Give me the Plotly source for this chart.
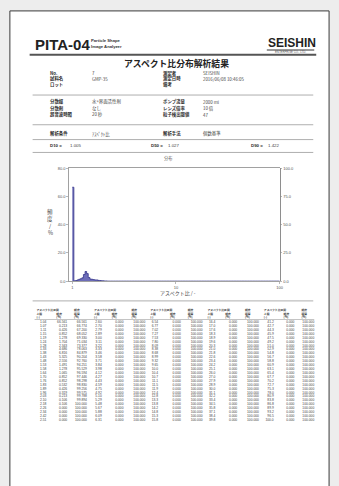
import plotly.graph_objects as go

W, H = 339, 486

# ---------------- data ----------------
EDGES = [
    1.000, 1.036, 1.074, 1.112, 1.152, 1.194, 1.237, 1.281, 1.328, 1.376,
    1.425, 1.477, 1.530, 1.585, 1.642, 1.701, 1.763, 1.826, 1.892, 1.960,
    2.031, 2.104, 2.180, 2.259, 2.340, 2.425, 2.512, 2.603, 2.697, 2.794,
    2.894, 2.999, 3.107, 3.219, 3.335, 3.455, 3.580, 3.709, 3.843, 3.981,
    4.125, 4.273, 4.428, 4.587, 4.753, 4.924, 5.102, 5.286, 5.477, 5.674,
    5.879, 6.091, 6.310, 6.537, 6.773, 7.017, 7.271, 7.533, 7.805, 8.086,
    8.378, 8.680, 8.993, 9.317, 9.653, 10.00, 10.36, 10.74, 11.12, 11.52,
    11.94, 12.37, 12.81, 13.28, 13.76, 14.25, 14.77, 15.30, 15.85, 16.42,
    17.01, 17.63, 18.26, 18.92, 19.60, 20.31, 21.04, 21.80, 22.59, 23.40,
    24.25, 25.12, 26.03, 26.97, 27.94, 28.94, 29.99, 31.07, 32.19, 33.35,
    34.55, 35.80, 37.09, 38.43, 39.81, 41.25, 42.73, 44.28, 45.87, 47.53,
    49.24, 51.02, 52.86, 54.77, 56.74, 58.79, 60.91, 63.10, 65.37, 67.73,
    70.17, 72.71, 75.33, 78.05, 80.86, 83.78, 86.80, 89.93, 93.17, 96.53,
    100.0,
]

FREQ = [
    66.561, 0.213, 0.426, 0.852, 1.278, 1.704, 2.343, 4.686, 6.816, 5.325,
    2.556, 1.491, 1.278, 1.065, 0.852, 0.852, 0.532, 0.426, 0.319, 0.213,
    0.106, 0.106, 0.000, 0.000, 0.000, 0.000, 0.000, 0.000, 0.000, 0.000,
    0.000, 0.000, 0.000, 0.000, 0.000, 0.000, 0.000, 0.000, 0.000, 0.000,
    0.000, 0.000, 0.000, 0.000, 0.000, 0.000, 0.000, 0.000, 0.000, 0.000,
    0.000, 0.000, 0.000, 0.000, 0.000, 0.000, 0.000, 0.000, 0.000, 0.000,
    0.000, 0.000, 0.000, 0.000, 0.000, 0.000, 0.000, 0.000, 0.000, 0.000,
    0.000, 0.000, 0.000, 0.000, 0.000, 0.000, 0.000, 0.000, 0.000, 0.000,
    0.000, 0.000, 0.000, 0.000, 0.000, 0.000, 0.000, 0.000, 0.000, 0.000,
    0.000, 0.000, 0.000, 0.000, 0.000, 0.000, 0.000, 0.000, 0.000, 0.000,
    0.000, 0.000, 0.000, 0.000, 0.000, 0.000, 0.000, 0.000, 0.000, 0.000,
    0.000, 0.000, 0.000, 0.000, 0.000, 0.000, 0.000, 0.000, 0.000, 0.000,
    0.000, 0.000, 0.000, 0.000, 0.000, 0.000, 0.000, 0.000, 0.000, 0.000,
]

LEFT_TICKS = [0, 20, 40, 60, 80]
RIGHT_TICKS = [0, 25, 50, 75, 100]
X_TICKS = [1, 10, 100]
X_TICK_TEXT = ["1", "10", "100"]

INFO_ROWS = [
    ("No.", "7", "測定者", "SEISHIN"),
    ("試料名", "GMP-35", "測定日時", "2016/06/08 10:46:05"),
    ("ロット", "", "備考", ""),
    ("分散媒", "水+界面活性剤", "ポンプ流量", "2000 ml"),
    ("分散剤", "なし", "レンズ倍率", "10 倍"),
    ("超音波時間", "20 秒", "粒子検出閾値", "47"),
    ("解析条件", "ｱｽﾍﾟｸﾄ比", "解析手法", "個数基準"),
]
D_LABELS = ["D10 =", "D50 =", "D90 ="]
D_VALUES = ["1.005", "1.027", "1.422"]

TITLE = "アスペクト比分布解析結果"
CHART_TITLE = "分布"
X_TITLE = "アスペクト比 / -"
Y_TITLE_CHARS = ["頻", "度", "/", "%"]
TABLE_HEAD = [("アスペクト比区間", "", "頻度"), ("上限", "頻度", "積算"), ("(-)", "(%)", "(%)")]

# ---------------- helpers ----------------
JP = "Noto Sans CJK JP, sans-serif"
LAT = "Liberation Sans, Arial, sans-serif"


def px(x):
    return x / W


def py(y):
    return 1 - y / H


annotations = []
shapes = []


def text(x, y, s, size, color="#333", anchor="left", family=JP):
    annotations.append(dict(
        x=px(x), y=py(y), xref="paper", yref="paper", text=s, showarrow=False,
        xanchor=anchor, yanchor="middle", borderpad=0,
        font=dict(size=size, color=color, family=family)))


def hline(x0, x1, y, color="#9a9a9a", width=0.8):
    shapes.append(dict(type="line", xref="paper", yref="paper",
                       x0=px(x0), x1=px(x1), y0=py(y), y1=py(y),
                       line=dict(color=color, width=width)))


# page
shapes.append(dict(type="rect", xref="paper", yref="paper", x0=px(10), x1=px(333),
                   y0=py(492), y1=py(8), fillcolor="white",
                   line=dict(color="#3a3a3a", width=1), layer="below"))

# header
text(34, 42, "<b>PITA-04</b>", 15, "#222", family=LAT)
text(91, 38.2, "<b>Particle Shape</b>", 4.2, "#333", family=LAT)
text(91, 43.6, "<b>Image Analyzer</b>", 4.2, "#333", family=LAT)
text(270, 40.5, "<b>SEISHIN</b>", 12, "#222", family=LAT)
hline(270, 318, 47.5, "#333", 1)
text(294, 49.8, "ENTERPRISE CO., LTD.", 2.8, "#555", anchor="center", family=LAT)
hline(30, 320, 52.3, "#555", 1.8)
text(179, 61.5, "<b>" + TITLE + "</b>", 8.8, "#222", anchor="center")

# info rows
row_y = [71, 76.5, 82, 100, 106.5, 113, 132]
for (l1, v1, l2, v2), yy in zip(INFO_ROWS, row_y):
    text(50, yy, "<b>" + l1 + "</b>", 4.4, "#2a2a2a")
    text(92, yy, v1, 4.4, "#444")
    text(164, yy, "<b>" + l2 + "</b>", 4.4, "#2a2a2a")
    text(204, yy, v2, 4.4, "#444")
for (lab, val), xl, xv in zip(zip(D_LABELS, D_VALUES), [50, 152, 253], [70, 169, 270]):
    text(xl, 144, "<b>" + lab + "</b>", 4.4, "#2a2a2a", family=LAT)
    text(xv, 144, val, 4.4, "#444", family=LAT)

for yy in [93, 123, 138, 151, 301]:
    hline(33, 317, yy)

# chart texts
text(170, 157, CHART_TITLE, 4.2, "#555", anchor="center")
for i, ch in enumerate(Y_TITLE_CHARS):
    text(51, 211 + i * 7, ch, 5.5, "#444", anchor="center")
text(180, 293, X_TITLE, 5, "#444", anchor="center")

# ---------------- chart ----------------
fig = go.Figure()
fig.add_trace(go.Scatter(
    x=EDGES, y=FREQ + [FREQ[-1]], mode="lines",
    line=dict(shape="hv", color="#33338a", width=0.8),
    fill="tozeroy", fillcolor="rgba(84,84,172,0.85)",
    xaxis="x", yaxis="y", hoverinfo="skip", showlegend=False))

CUM = []
run = 0.0
for f in FREQ:
    run += f
    CUM.append(min(run, 100.0))

fig.add_trace(go.Scatter(
    x=EDGES[1:], y=CUM, mode="lines", line=dict(width=0, color="rgba(0,0,0,0)"),
    xaxis="x", yaxis="y2", hoverinfo="skip", showlegend=False))

# ---------------- table (text on a full-page overlay axis) ----------------
def fmt_edge(v):
    return "%.2f" % v if v < 10 else "%.1f" % v


ROWS = 26
ROW0, STEP = 322.5, 3.96
row_pos = [ROW0 + r * STEP for r in range(ROWS)]
col_right = [(47, 68, 88), (103, 125, 147), (160, 183, 205), (218, 240, 262), (277, 298, 318)]
col_left = [(37, 57, 75), (95, 113, 133), (152, 172, 190), (210, 228, 248), (267, 287, 305)]

for g in range(5):
    idx = list(range(g * ROWS, (g + 1) * ROWS))
    cols = [
        [fmt_edge(EDGES[i + 1]) for i in idx],
        ["%.3f" % FREQ[i] for i in idx],
        ["%.3f" % CUM[i] for i in idx],
    ]
    for c in range(3):
        fig.add_trace(go.Scatter(
            x=[col_right[g][c]] * ROWS, y=row_pos, text=cols[c], mode="text",
            textposition="middle left",
            textfont=dict(size=3.3, color="#444", family=LAT),
            xaxis="x3", yaxis="y3", hoverinfo="skip", showlegend=False))
    hx, hy, ht = [], [], []
    for r, head in enumerate(TABLE_HEAD):
        for c in range(3):
            if head[c]:
                hx.append(col_left[g][c])
                hy.append(311 + r * 3.3)
                ht.append("<b>" + head[c] + "</b>")
    fig.add_trace(go.Scatter(
        x=hx, y=hy, text=ht, mode="text", textposition="middle right",
        textfont=dict(size=2.8, color="#333", family=JP),
        xaxis="x3", yaxis="y3", hoverinfo="skip", showlegend=False))
hline(35, 318, 319.8, "#888", 0.5)

axis_common = dict(showline=True, linecolor="#8a8a8a", linewidth=0.8, ticks="outside",
                   ticklen=2, tickwidth=0.6, tickcolor="#8a8a8a", showgrid=False,
                   zeroline=False, tickfont=dict(size=4, color="#555", family=LAT))

fig.update_layout(
    width=W, height=H, autosize=False,
    margin=dict(l=0, r=0, t=0, b=0, pad=0),
    paper_bgcolor="#ededed", plot_bgcolor="rgba(0,0,0,0)",
    showlegend=False,
    xaxis=dict(type="log", domain=[px(70), px(283)], range=[-0.03, 2.0],
               tickvals=X_TICKS, ticktext=X_TICK_TEXT, mirror=True, anchor="y",
               **axis_common),
    yaxis=dict(domain=[py(281), py(167)], range=[0, 80], tickvals=LEFT_TICKS,
               tickformat=".1f", mirror=True, anchor="x", **axis_common),
    yaxis2=dict(overlaying="y", side="right", anchor="x", range=[0, 100],
                tickvals=RIGHT_TICKS, tickformat=".1f", **axis_common),
    xaxis3=dict(domain=[0, 1], range=[0, W], visible=False, anchor="y3", fixedrange=True),
    yaxis3=dict(domain=[0, 1], range=[H, 0], visible=False, anchor="x3", fixedrange=True),
    annotations=annotations,
    shapes=shapes,
)

fig.write_html(
    "out.html",
    config={"displayModeBar": False, "staticPlot": True},
    post_script="document.body.style.margin='0px';document.body.style.background='#ededed';",
)
